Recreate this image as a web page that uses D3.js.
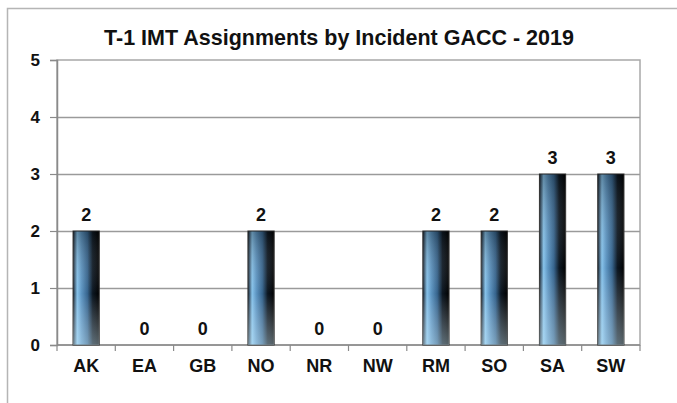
<!DOCTYPE html>
<html>
<head>
<meta charset="utf-8">
<script src="https://cdn.jsdelivr.net/npm/d3@7"></script>
<style>
  body { margin: 0; background: #fff; }
  svg text { font-family: "Liberation Sans", Arial, sans-serif; font-weight: bold; fill: #111; }
</style>
</head>
<body>
<div id="chart"></div>
<script>
"use strict";

// chart data
const categories = ["AK", "EA", "GB", "NO", "NR", "NW", "RM", "SO", "SA", "SW"];
const assignments = [2, 0, 0, 2, 0, 0, 2, 2, 3, 3];
const yTicks = [0, 1, 2, 3, 4, 5];
const title = "T-1 IMT Assignments by Incident GACC - 2019";

const width = 677;
const height = 403;
const margin = { top: 60, right: 37, bottom: 58, left: 57 };

const svg = d3.select("#chart")
  .append("svg")
  .attr("width", width)
  .attr("height", height);

// gradients for the bars
const defs = svg.append("defs");
const grad = defs.append("linearGradient")
  .attr("id", "barGrad")
  .attr("x1", "0%").attr("x2", "100%").attr("y1", "0%").attr("y2", "0%");
[
  ["0%", "#15202d"],
  ["16%", "#86c2ea"],
  ["32%", "#5d95c2"],
  ["55%", "#36648d"],
  ["75%", "#0c1722"],
  ["100%", "#000000"]
].forEach(function (s) {
  grad.append("stop").attr("offset", s[0]).attr("stop-color", s[1]);
});
const shine = defs.append("linearGradient")
  .attr("id", "barShine")
  .attr("x1", "0%").attr("x2", "0%").attr("y1", "0%").attr("y2", "100%");
shine.append("stop").attr("offset", "0%").attr("stop-color", "#000").attr("stop-opacity", 0.3);
shine.append("stop").attr("offset", "55%").attr("stop-color", "#fff").attr("stop-opacity", 0);
shine.append("stop").attr("offset", "100%").attr("stop-color", "#d8f4ff").attr("stop-opacity", 0.4);

// outer frame (only top and left visible in the picture)
svg.append("path")
  .attr("d", "M7.5," + height + "V8.5H" + width)
  .attr("fill", "none")
  .attr("stroke", "#b5b5b5")
  .attr("stroke-width", 1.5);

svg.append("text")
  .attr("x", 339)
  .attr("y", 45)
  .attr("text-anchor", "middle")
  .style("font-size", "21.5px")
  .text(title);

const innerW = width - margin.left - margin.right;
const innerH = height - margin.top - margin.bottom;

const x = d3.scaleBand()
  .domain(categories)
  .range([margin.left, margin.left + innerW])
  .paddingInner(0.55)
  .paddingOuter(0.275);

const y = d3.scaleLinear()
  .domain([0, 5])
  .range([margin.top + innerH, margin.top]);

// plot area border
svg.append("rect")
  .attr("x", margin.left)
  .attr("y", margin.top)
  .attr("width", innerW)
  .attr("height", innerH)
  .attr("fill", "none")
  .attr("stroke", "#a8a8a8")
  .attr("stroke-width", 1.5);

// gridlines
svg.append("g")
  .selectAll("line")
  .data(yTicks.slice(1, -1))
  .enter()
  .append("line")
  .attr("x1", margin.left)
  .attr("x2", margin.left + innerW)
  .attr("y1", function (d) { return y(d) + 0.5; })
  .attr("y2", function (d) { return y(d) + 0.5; })
  .attr("stroke", "#9a9a9a")
  .attr("stroke-width", 1.5);

// y axis
const yAxis = svg.append("g")
  .attr("transform", "translate(" + margin.left + ",0)")
  .call(d3.axisLeft(y).tickValues(yTicks).tickSize(7).tickPadding(10).tickFormat(d3.format("d")));
yAxis.select(".domain").attr("stroke", "#8a8a8a").attr("stroke-width", 1.5);
yAxis.selectAll(".tick line").attr("stroke", "#8a8a8a").attr("stroke-width", 1.2);
yAxis.selectAll("text").style("font-size", "17px").attr("fill", "#111");

// x axis: ticks sit on the category boundaries
const boundaries = d3.range(categories.length + 1).map(function (i) {
  return margin.left + i * x.step();
});
const xg = svg.append("g");
xg.append("line")
  .attr("x1", margin.left)
  .attr("x2", margin.left + innerW)
  .attr("y1", y(0))
  .attr("y2", y(0))
  .attr("stroke", "#8a8a8a")
  .attr("stroke-width", 1.5);
xg.selectAll(".xtick")
  .data(boundaries)
  .enter()
  .append("line")
  .attr("x1", function (d) { return d; })
  .attr("x2", function (d) { return d; })
  .attr("y1", y(0))
  .attr("y2", y(0) + 6)
  .attr("stroke", "#8a8a8a")
  .attr("stroke-width", 1.2);
xg.selectAll("text")
  .data(categories)
  .enter()
  .append("text")
  .attr("x", function (d) { return x(d) + x.bandwidth() / 2; })
  .attr("y", y(0) + 27)
  .attr("text-anchor", "middle")
  .style("font-size", "18px")
  .text(function (d) { return d; });

// bars
const bars = svg.append("g")
  .selectAll("g")
  .data(assignments)
  .enter()
  .append("g");

bars.each(function (d, i) {
  if (d <= 0) return;
  const g = d3.select(this);
  g.append("rect")
    .attr("x", x(categories[i]))
    .attr("y", y(d))
    .attr("width", x.bandwidth())
    .attr("height", y(0) - y(d))
    .attr("fill", "url(#barGrad)")
    .attr("stroke", "#333")
    .attr("stroke-width", 1);
  g.append("rect")
    .attr("x", x(categories[i]))
    .attr("y", y(d))
    .attr("width", x.bandwidth())
    .attr("height", y(0) - y(d))
    .attr("fill", "url(#barShine)");
});

// value labels
bars.append("text")
  .attr("x", function (d, i) { return x(categories[i]) + x.bandwidth() / 2; })
  .attr("y", function (d) { return y(d) - 10; })
  .attr("text-anchor", "middle")
  .style("font-size", "18px")
  .text(function (d) { return d; });
</script>
</body>
</html>
